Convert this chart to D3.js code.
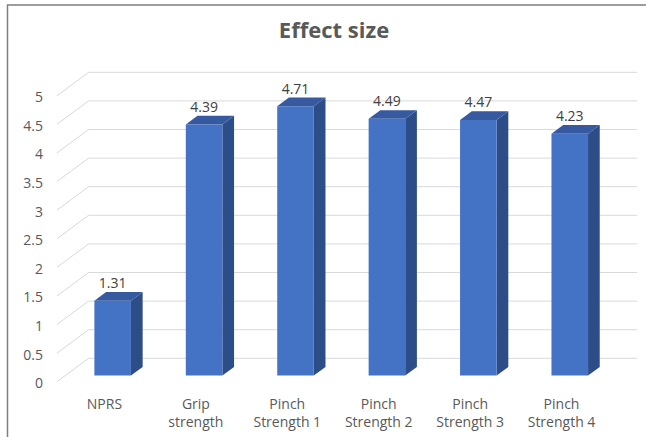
<!DOCTYPE html>
<html>
<head>
<meta charset="utf-8">
<script src="https://cdn.jsdelivr.net/npm/d3@7"></script>
<style>
  html, body { margin: 0; padding: 0; background: #fff; }
  svg { display: block; }
  text { font-family: "Open Sans", "Noto Sans", sans-serif; }
</style>
</head>
<body>
<svg id="chart" width="646" height="437"></svg>
<script>
// Effect size per outcome measure
const categories = ["NPRS", "Grip strength", "Pinch Strength 1", "Pinch Strength 2", "Pinch Strength 3", "Pinch Strength 4"];
const categoryLines = [["NPRS"], ["Grip", "strength"], ["Pinch", "Strength 1"], ["Pinch", "Strength 2"], ["Pinch", "Strength 3"], ["Pinch", "Strength 4"]];
const values = [1.31, 4.39, 4.71, 4.49, 4.47, 4.23];
const tickValues = [0, 0.5, 1, 1.5, 2, 2.5, 3, 3.5, 4, 4.5, 5];
const title = "Effect size";

const svg = d3.select("#chart");

// Oblique projection: depth d in [0,1] shifts right by DX and up by DY
const DX = 31.6, DY = 23.4;
const proj = (x, y, d) => [x + d * DX, y - d * DY];

const x = d3.scaleBand().domain(categories).range([57, 605.5]).padding(0);
const y = d3.scaleLinear().domain([0, 5]).range([381.7, 95.7]);

// Chart frame (top and left edges)
svg.append("path")
  .attr("d", "M7.5,437 L7.5,5 L646,5")
  .attr("fill", "none").attr("stroke", "#7f7f7f").attr("stroke-width", 1.5);

// Title
svg.append("text")
  .attr("x", 334).attr("y", 38)
  .attr("text-anchor", "middle")
  .attr("font-size", 22).attr("font-weight", "bold")
  .attr("fill", "#595959")
  .text(title);

// Gridlines: side wall diagonals and back wall horizontals
const grid = svg.append("g").attr("stroke", "#d9d9d9").attr("stroke-width", 1).attr("fill", "none");
tickValues.forEach(t => {
  const [fx, fy] = proj(x.range()[0], y(t), 0);
  const [bx, by] = proj(x.range()[0], y(t), 1);
  const [ex] = proj(x.range()[1], y(t), 1);
  grid.append("path").attr("d", `M${fx},${fy} L${bx},${by} L${ex},${by}`);
});

// Y axis tick labels
svg.append("g").selectAll("text").data(tickValues).join("text")
  .attr("x", 43).attr("y", d => y(d) + 1)
  .attr("text-anchor", "end").attr("dominant-baseline", "central")
  .attr("font-size", 14).attr("fill", "#595959")
  .text(d => d3.format("~g")(d));

// 3D columns
const bw = x.bandwidth();
const fw = bw * 0.4;
const d0 = 0.26, d1 = 0.63;
const bars = svg.append("g");
categories.forEach((c, i) => {
  const x0 = x(c) + (bw - fw) / 2 + 1.75;
  const x1 = x0 + fw;
  const yb = y(0), yt = y(values[i]);
  const P = (px, py, d) => proj(px, py, d).join(",");
  // side face
  bars.append("path")
    .attr("d", `M${P(x1, yb, d0)} L${P(x1, yb, d1)} L${P(x1, yt, d1)} L${P(x1, yt, d0)} Z`)
    .attr("fill", "#2c4d88");
  // top face
  bars.append("path")
    .attr("d", `M${P(x0, yt, d0)} L${P(x1, yt, d0)} L${P(x1, yt, d1)} L${P(x0, yt, d1)} Z`)
    .attr("fill", "#3659a0");
  // front face
  bars.append("path")
    .attr("d", `M${P(x0, yb, d0)} L${P(x1, yb, d0)} L${P(x1, yt, d0)} L${P(x0, yt, d0)} Z`)
    .attr("fill", "#4472c4");
  // value label
  const [lx] = proj((x0 + x1) / 2, yt, d0);
  const [, ly] = proj(x0, yt, d1);
  bars.append("text")
    .attr("x", lx).attr("y", ly - 4)
    .attr("text-anchor", "middle")
    .attr("font-size", 14).attr("fill", "#404040")
    .text(values[i].toFixed(2));
  // category label
  const t = bars.append("text")
    .attr("x", (x0 + x1) / 2).attr("y", 409)
    .attr("text-anchor", "middle")
    .attr("font-size", 14).attr("fill", "#595959");
  categoryLines[i].forEach((line, k) => {
    t.append("tspan").attr("x", (x0 + x1) / 2).attr("dy", k === 0 ? 0 : 18).text(line);
  });
});
</script>
</body>
</html>
